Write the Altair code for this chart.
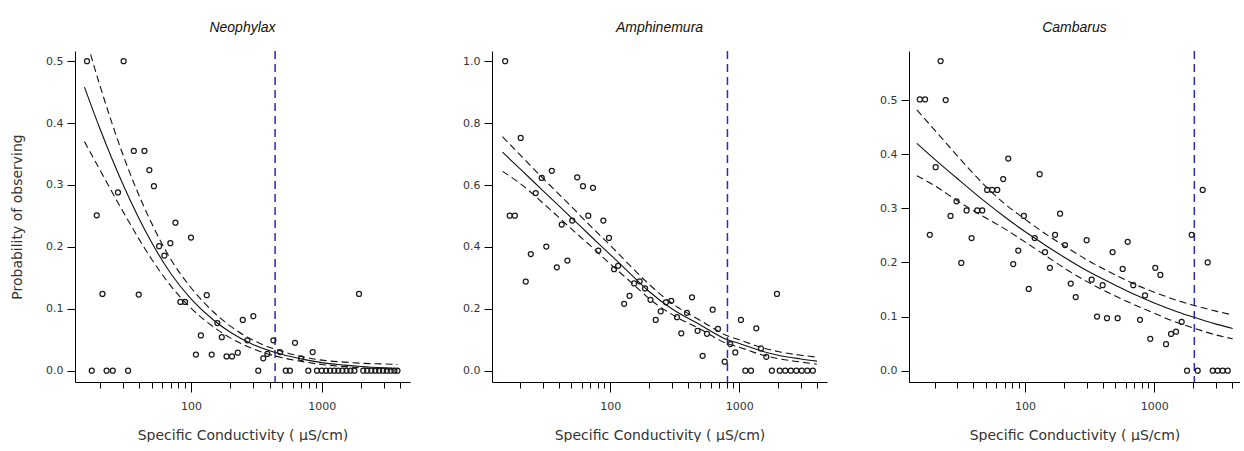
import altair as alt
import pandas as pd

# ---------------- data ----------------
# Panel 1: Neophylax
n_x = [16, 30.5, 36.5, 44, 48, 52, 27.6, 19, 76, 100, 69.5, 57, 62.5, 21, 39.8, 83, 90,
       132, 249, 159, 172, 119, 109, 144, 187, 206, 228, 17.4, 22.6, 25.2, 33, 300, 270,
       327, 357, 384, 427, 480, 531, 571, 625, 695, 790, 853, 1930,
       920, 1000, 1080, 1160, 1250, 1340, 1440, 1550, 1660, 1780, 2080, 2230, 2400, 2570,
       2750, 2950, 3150, 3380, 3600, 3800]
n_y = [0.5, 0.5, 0.355, 0.355, 0.324, 0.298, 0.288, 0.251, 0.239, 0.215, 0.206, 0.201, 0.186,
       0.124, 0.123, 0.111, 0.111, 0.122, 0.082, 0.077, 0.054, 0.057, 0.026, 0.026, 0.023,
       0.023, 0.029, 0, 0, 0, 0, 0.088, 0.049, 0, 0.02, 0.027, 0.049, 0.03, 0, 0, 0.045,
       0.02, 0, 0.03, 0.124,
       0, 0, 0, 0, 0, 0, 0, 0, 0, 0, 0, 0, 0, 0, 0, 0, 0, 0, 0, 0]
n_cx = [15.3, 20, 30, 50, 70, 100, 150, 200, 300, 500, 700, 1000, 1500, 2000, 3000, 3800]
n_fit = [0.458, 0.392, 0.302, 0.207, 0.157, 0.116, 0.081, 0.062, 0.042, 0.026, 0.019, 0.013,
         0.009, 0.0067, 0.0045, 0.0036]
n_up = [0.545, 0.462, 0.350, 0.238, 0.180, 0.134, 0.094, 0.072, 0.049, 0.031, 0.023, 0.017,
        0.0138, 0.012, 0.0108, 0.010]
n_lo = [0.370, 0.325, 0.258, 0.180, 0.137, 0.101, 0.070, 0.053, 0.035, 0.021, 0.015, 0.010,
        0.0065, 0.0045, 0.0028, 0.0020]
n_thr = 440

# Panel 2: Amphinemura
a_x = [15.3, 20.2, 16.6, 18.2, 22.1, 24.2, 29.4, 26.4, 35.2, 31.9, 38.5, 42, 46.5, 50.7, 55.4,
       61.4, 73.4, 67.5, 88.3, 97.7, 80.7, 107, 115, 153, 169, 186, 141, 128, 205, 246, 225,
       270, 297, 329, 355, 393, 430, 475, 520, 562, 622, 684, 771, 852, 931, 1030, 1114,
       1233, 1355, 1473, 1620, 1790, 1960, 2060, 2275, 2510, 2770, 3050, 3370, 3720]
a_y = [1.0, 0.752, 0.501, 0.501, 0.288, 0.377, 0.623, 0.574, 0.646, 0.401, 0.334, 0.472, 0.356,
       0.485, 0.625, 0.596, 0.591, 0.501, 0.485, 0.429, 0.388, 0.328, 0.339, 0.282, 0.289,
       0.266, 0.242, 0.216, 0.229, 0.192, 0.164, 0.221, 0.226, 0.173, 0.121, 0.187, 0.237,
       0.129, 0.048, 0.119, 0.197, 0.135, 0.029, 0.086, 0.059, 0.164, 0, 0, 0.137, 0.072,
       0.045, 0, 0.248, 0, 0, 0, 0, 0, 0, 0]
a_cx = [14.6, 20, 30, 50, 70, 100, 150, 200, 300, 500, 800, 1000, 1500, 2000, 3000, 4000]
a_fit = [0.706, 0.652, 0.582, 0.494, 0.436, 0.375, 0.305, 0.256, 0.200, 0.148, 0.101, 0.088,
         0.063, 0.050, 0.038, 0.031]
a_up = [0.756, 0.697, 0.622, 0.530, 0.468, 0.405, 0.330, 0.279, 0.218, 0.162, 0.114, 0.100,
        0.075, 0.062, 0.050, 0.044]
a_lo = [0.644, 0.605, 0.542, 0.458, 0.404, 0.345, 0.280, 0.233, 0.182, 0.134, 0.088, 0.076,
        0.051, 0.039, 0.028, 0.021]
a_thr = 810

# Panel 3: Cambarus
c_x = [22.3, 15.4, 16.9, 24.4, 20.4, 18.4, 26.6, 29.6, 32.2, 35.4, 38.7, 42.8, 46.8, 51, 55.8,
       61.1, 67.9, 74.3, 98.2, 88.8, 81.2, 107, 119, 130, 143, 156, 171, 187, 204, 226, 247,
       300, 328, 361, 399, 431, 476, 521, 570, 623, 688, 776, 848, 931, 1018, 1114, 1233,
       1348, 1474, 1629, 1792, 1946, 2166, 2368, 2588, 2830, 3093, 3380, 3698]
c_y = [0.572, 0.501, 0.501, 0.5, 0.376, 0.251, 0.286, 0.313, 0.199, 0.296, 0.245, 0.296, 0.296,
       0.334, 0.334, 0.334, 0.354, 0.392, 0.286, 0.222, 0.197, 0.151, 0.245, 0.363, 0.219,
       0.19, 0.251, 0.29, 0.232, 0.161, 0.136, 0.241, 0.168, 0.1, 0.158, 0.097, 0.219, 0.097,
       0.188, 0.238, 0.158, 0.094, 0.139, 0.059, 0.19, 0.177, 0.049, 0.068, 0.072, 0.09, 0,
       0.251, 0, 0.334, 0.2, 0, 0, 0, 0]
c_cx = [14.6, 20, 30, 50, 70, 100, 150, 200, 300, 500, 700, 1000, 1500, 2000, 3000, 4040]
c_fit = [0.420, 0.391, 0.355, 0.311, 0.284, 0.257, 0.229, 0.210, 0.185, 0.158, 0.141, 0.125,
         0.109, 0.099, 0.086, 0.078]
c_up = [0.482, 0.445, 0.397, 0.340, 0.308, 0.280, 0.250, 0.231, 0.205, 0.177, 0.160, 0.145,
        0.130, 0.121, 0.110, 0.103]
c_lo = [0.360, 0.342, 0.314, 0.282, 0.262, 0.238, 0.210, 0.190, 0.165, 0.138, 0.122, 0.106,
        0.089, 0.079, 0.066, 0.059]
c_thr = 2040

x_ticks = [20, 30, 40, 50, 60, 70, 80, 90, 100, 200, 300, 400, 500, 600, 700, 800, 900,
           1000, 2000, 3000, 4000]
x_title = "Specific Conductivity ( µS/cm)"
y_title = "Probability of observing"

LABEL_FONT = "DejaVu Sans"
TEXT_COLOR = "#333333"


def panel(name, px, py, cx, fit, up, lo, thr, xdom, ydom, yvals, width, ytitle):
    pts = pd.DataFrame({"sc": px, "p": py})
    fit_df = pd.DataFrame({"sc": cx, "p": fit})
    up_df = pd.DataFrame({"sc": cx, "p": up})
    lo_df = pd.DataFrame({"sc": cx, "p": lo})
    thr_df = pd.DataFrame({"sc": [thr]})

    xaxis = alt.Axis(
        title=x_title,
        values=x_ticks,
        labelExpr="(datum.value == 100 || datum.value == 1000) ? format(datum.value, 'd') : ''",
        tickSize={"condition": {"test": "datum.value == 100 || datum.value == 1000", "value": 10},
                  "value": 6},
        labelPadding=8,
        titlePadding=17,
        grid=False,
        labelFlush=False,
        labelOverlap=False,
        labelFont=LABEL_FONT, labelFontSize=11, labelColor=TEXT_COLOR,
        titleFont=LABEL_FONT, titleFontSize=14, titleFontWeight="normal", titleColor=TEXT_COLOR,
        domainColor="#000000", tickColor="#000000",
    )
    yaxis = alt.Axis(
        title=ytitle if ytitle else None,
        values=yvals,
        format=".1f",
        tickSize=8,
        labelPadding=4,
        titlePadding=21,
        grid=False,
        labelFont=LABEL_FONT, labelFontSize=11, labelColor=TEXT_COLOR,
        titleFont=LABEL_FONT, titleFontSize=14, titleFontWeight="normal", titleColor=TEXT_COLOR,
        domainColor="#000000", tickColor="#000000",
    )
    xs = alt.Scale(type="log", domain=xdom, nice=False)
    ys = alt.Scale(domain=ydom, nice=False, zero=False)
    xe = alt.X("sc:Q", scale=xs, axis=xaxis)
    ye = alt.Y("p:Q", scale=ys, axis=yaxis)

    points = alt.Chart(pts).mark_point(
        shape="circle", filled=False, size=25, stroke="#1a1a1a", strokeWidth=1.25, opacity=1
    ).encode(x=xe, y=ye)
    fit_line = alt.Chart(fit_df).mark_line(
        color="#111111", strokeWidth=1.1, interpolate="monotone", clip=True
    ).encode(x=xe, y=ye)
    up_line = alt.Chart(up_df).mark_line(
        color="#111111", strokeWidth=1.1, strokeDash=[7, 4], interpolate="monotone", clip=True
    ).encode(x=xe, y=ye)
    lo_line = alt.Chart(lo_df).mark_line(
        color="#111111", strokeWidth=1.1, strokeDash=[7, 4], interpolate="monotone", clip=True
    ).encode(x=xe, y=ye)
    rule = alt.Chart(thr_df).mark_rule(
        color="#2b2bbf", strokeWidth=1.5, strokeDash=[8, 5]
    ).encode(x=xe)

    return alt.layer(rule, up_line, lo_line, fit_line, points).properties(
        width=width,
        height=331,
        title=alt.TitleParams(
            name, font="Liberation Sans", fontStyle="italic", fontSize=14,
            fontWeight="normal", color="#111111", offset=4, frame="group",
            anchor="middle", baseline="alphabetic",
        ),
    )


p1 = panel("Neophylax", n_x, n_y, n_cx, n_fit, n_up, n_lo, n_thr,
           [12.95, 4740], [-0.0183, 0.5164], [0, 0.1, 0.2, 0.3, 0.4, 0.5], 335, y_title)
p2 = panel("Amphinemura", a_x, a_y, a_cx, a_fit, a_up, a_lo, a_thr,
           [12.1, 4790], [-0.0365, 1.033], [0, 0.2, 0.4, 0.6, 0.8, 1.0], 335, None)
p3 = panel("Cambarus", c_x, c_y, c_cx, c_fit, c_up, c_lo, c_thr,
           [12.7, 4600], [-0.0209, 0.5906], [0, 0.1, 0.2, 0.3, 0.4, 0.5], 331, None)

chart = alt.hconcat(p1, p2, p3, spacing=52).properties(
    padding={"left": 10, "top": 21, "right": 0, "bottom": 0},
    background="white",
).configure_view(stroke=None)

chart.save("out.html", embed_options={"renderer": "svg", "actions": False})
